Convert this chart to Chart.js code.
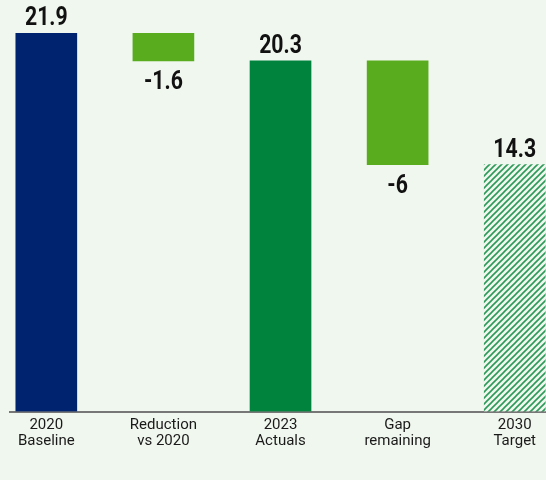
<!DOCTYPE html>
<html>
<head>
<meta charset="utf-8">
<script src="https://cdn.jsdelivr.net/npm/chart.js@4"></script>
<style>
  html, body { margin: 0; padding: 0; background: #f0f7ee; }
  #wrap { width: 546px; height: 480px; }
</style>
</head>
<body>
<div id="wrap"><canvas id="gapChart"></canvas></div>
<script>
// categories and values
const categories = [["2020", "Baseline"], ["Reduction", "vs 2020"], ["2023", "Actuals"], ["Gap", "remaining"], ["2030", "Target"]];
const values = [21.9, -1.6, 20.3, -6, 14.3];
const barBottoms = [0, 20.3, 0, 14.3, 0];
const barTops = [21.9, 21.9, 20.3, 20.3, 14.3];

const NAVY = "#00236f";
const LIGHT_GREEN = "#58ac1e";
const DARK_GREEN = "#00843d";

// diagonal hatch for the target bar
function makeHatch() {
    const size = 6;
    const c = document.createElement("canvas");
    c.width = size;
    c.height = size;
    const g = c.getContext("2d");
    g.fillStyle = "#f0f7ee";
    g.fillRect(0, 0, size, size);
    g.strokeStyle = "#2c9a58";
    g.lineWidth = 1.6;
    g.beginPath();
    g.moveTo(-1, size + 1); g.lineTo(size + 1, -1);
    g.moveTo(-1, 1); g.lineTo(1, -1);
    g.moveTo(size - 1, size + 1); g.lineTo(size + 1, size - 1);
    g.stroke();
    return g.createPattern(c, "repeat");
}

const colors = [NAVY, LIGHT_GREEN, DARK_GREEN, LIGHT_GREEN, makeHatch()];

// value labels above / below each bar (slightly condensed bold)
const valueLabels = {
    id: "valueLabels",
    afterDatasetsDraw(chart) {
        const ctx = chart.ctx;
        const meta = chart.getDatasetMeta(0);
        meta.data.forEach((bar, i) => {
            const top = Math.min(bar.y, bar.base);
            const bottom = Math.max(bar.y, bar.base);
            const y = values[i] < 0 ? bottom + 28 : top - 8;
            ctx.save();
            ctx.font = "bold 25px Roboto";
            ctx.fillStyle = "#111111";
            ctx.textAlign = "center";
            ctx.textBaseline = "alphabetic";
            ctx.translate(bar.x, y);
            ctx.scale(0.85, 1);
            ctx.fillText(String(values[i]), 0, 0);
            ctx.restore();
        });
    }
};

new Chart(document.getElementById("gapChart"), {
    type: "bar",
    data: {
        datasets: [{
            data: categories.map((_, i) => ({ x: i, y: [barBottoms[i], barTops[i]] })),
            backgroundColor: colors,
            borderWidth: 0,
            barThickness: 61
        }]
    },
    options: {
        responsive: true,
        maintainAspectRatio: false,
        animation: false,
        layout: { padding: { top: 10, left: 10, right: 0, bottom: 25 } },
        plugins: {
            legend: { display: false },
            tooltip: { enabled: false }
        },
        scales: {
            x: {
                type: "linear",
                offset: false,
                min: -0.31,
                max: 4.267,
                afterBuildTicks: (scale) => {
                    scale.ticks = categories.map((_, i) => ({ value: i }));
                },
                grid: { display: false, drawTicks: false },
                border: { display: true, color: "#777777", width: 2 },
                ticks: {
                    padding: 6,
                    color: "#1a1a1a",
                    font: { family: "Roboto", size: 15, lineHeight: 1.05 },
                    maxRotation: 0,
                    autoSkip: false,
                    callback: (v) => categories[v]
                }
            },
            y: {
                display: false,
                min: 0,
                max: 23.25
            }
        }
    },
    plugins: [valueLabels]
});
</script>
</body>
</html>
